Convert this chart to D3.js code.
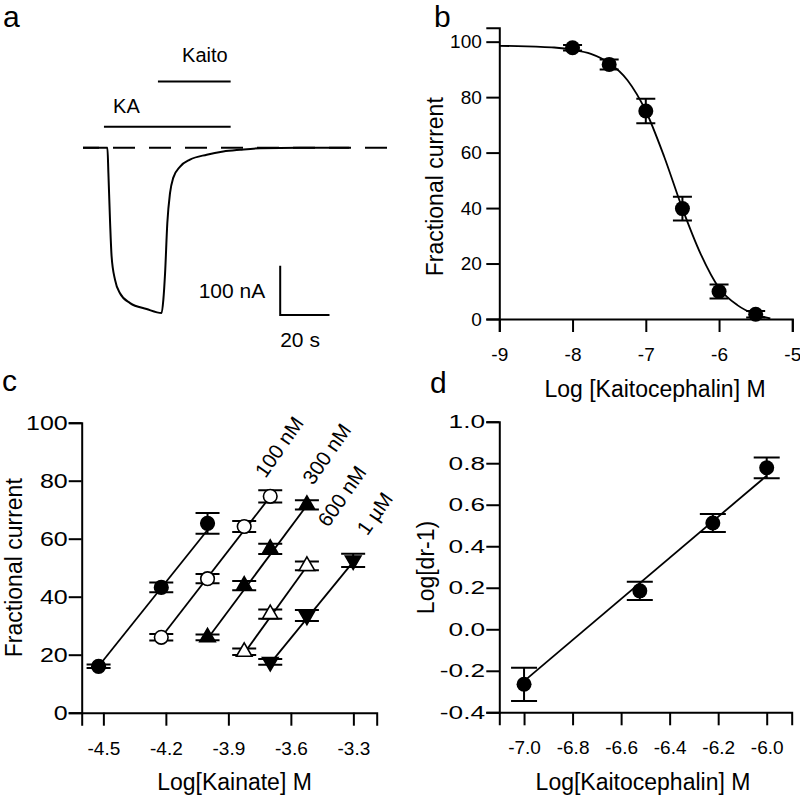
<!DOCTYPE html>
<html><head><meta charset="utf-8">
<script src="https://cdn.jsdelivr.net/npm/d3@7"></script>
<style>
body{margin:0;background:#fff}
svg{display:block;background:#fff}
text{font-family:"Liberation Sans",Arial,Helvetica,sans-serif;fill:#000}
</style></head><body>
<svg id="chart" width="800" height="800"></svg>
<script>
// ---------- Panel a : current trace (time in s, current in nA) ----------
const traceT = [0, 9.6, 9.9, 10.3, 11.0, 11.6, 13.0, 15.0, 19.1, 25.8, 31.9, 32.6, 33.3, 34.2, 35.3, 36.6, 39.4, 43.4, 50.2, 56.9, 63.7, 71.8, 88, 108];
const traceI = [0, 0, 0, -51, -153, -220, -268, -295, -315, -327, -335, -308, -254, -153, -92, -61, -38, -24, -14, -7.5, -4, -1, 0, 0];
const baselineT = [0, 123.7];
const kaBarT = [8.5, 59.9];
const kaitoBarT = [30.4, 59.9];
const scaleBarSec = 20;
const scaleBarNA = 100;

// ---------- Panel b : inhibition curve ----------
const bLogConc = [-8, -7.5, -7, -6.5, -6, -5.5];
const bFrac = [97.8, 91.8, 75.0, 39.8, 9.9, 1.7];
const bErr = [1.0, 1.8, 4.4, 4.3, 2.5, 1.2];
const bFitX = [-9, -8.75, -8.5, -8.25, -8, -7.75, -7.5, -7.25, -7, -6.75, -6.5, -6.25, -6, -5.75, -5.5, -5.3];
const bFitY = [98.5, 98.4, 98.2, 97.9, 97.1, 95.6, 92.3, 86.1, 75.0, 58.6, 39.8, 23.4, 11.2, 5.0, 1.6, 0.2];
const bXTicks = [-9, -8, -7, -6, -5];
const bYTicks = [0, 20, 40, 60, 80, 100];

// ---------- Panel c : Schild shift ----------
const cNames = ["Control", "100 nM", "300 nM", "600 nM", "1 µM"];
const cX0 = [-4.523, -4.222, -4.0];
const cY0 = [16, 43.2, 65.3];
const cE0 = [0.6, 1.7, 3.6];
const cX1 = [-4.222, -4.0, -3.824, -3.699];
const cY1 = [26, 46.2, 64.2, 74.6];
const cE1 = [1.1, 1.6, 1.9, 2.1];
const cX2 = [-4.0, -3.824, -3.699, -3.523];
const cY2 = [26, 43.8, 56.5, 71.7];
const cE2 = [1.0, 1.6, 1.8, 1.6];
const cX3 = [-3.824, -3.699, -3.523];
const cY3 = [21, 34, 50.6];
const cE3 = [1.1, 1.6, 1.5];
const cX4 = [-3.699, -3.523, -3.301];
const cY4 = [17.5, 33.5, 52.5];
const cE4 = [1.0, 1.9, 2.3];
const cFitStart = [16, 26, 25.5, 20.5, 17];
const cFitEnd = [63, 74.5, 71.5, 50.5, 52];
const cLabels = ["100 nM", "300 nM", "600 nM", "1 µM"];
const cXTicks = [-4.5, -4.2, -3.9, -3.6, -3.3];
const cYTicks = [0, 20, 40, 60, 80, 100];

// ---------- Panel d : Schild plot ----------
const dLogConc = [-7.0, -6.523, -6.222, -6.0];
const dLogDr = [-0.265, 0.185, 0.512, 0.778];
const dErr = [0.08, 0.044, 0.043, 0.05];
const dFitX = [-7.0, -6.0];
const dFitY = [-0.25, 0.74];
const dXTicks = [-7.0, -6.8, -6.6, -6.4, -6.2, -6.0];
const dYTicks = [-0.4, -0.2, 0.0, 0.2, 0.4, 0.6, 0.8, 1.0];

// =====================================================================
const svg = d3.select("#chart");
const FONT = '"Liberation Sans",Arial,Helvetica,sans-serif';
const SW = 2;

function styleAxis(g, fs) {
  g.attr("font-family", FONT).attr("font-size", fs);
  g.select(".domain").attr("stroke", "#000").attr("stroke-width", SW);
  g.selectAll(".tick line").attr("stroke", "#000").attr("stroke-width", SW);
  g.selectAll(".tick text").attr("fill", "#000");
}
// horizontally widen left-axis labels while keeping their right edge
function widenLabels(g, sx) {
  g.selectAll(".tick text").each(function () {
    const t = d3.select(this);
    const x0 = +t.attr("x");
    t.attr("x", x0 / sx).attr("transform", `scale(${sx},1)`);
  });
}
function panelLabel(t, x, y) {
  svg.append("text").attr("x", x).attr("y", y).attr("font-size", 30).text(t);
}

// ---------- Panel a ----------
(function () {
  const xA = d3.scaleLinear().domain([0, 20]).range([83, 132.3]);
  const yA = d3.scaleLinear().domain([0, -100]).range([147.8, 197.1]);
  panelLabel("a", 3, 27);

  svg.append("line")
    .attr("x1", xA(baselineT[0])).attr("x2", xA(baselineT[1]))
    .attr("y1", yA(0)).attr("y2", yA(0))
    .attr("stroke", "#000").attr("stroke-width", 2)
    .attr("stroke-dasharray", "22,14").attr("stroke-dashoffset", 6);

  const pts = traceT.map((t, i) => [t, traceI[i]]);
  svg.append("path").datum(pts)
    .attr("d", d3.line().x(d => xA(d[0])).y(d => yA(d[1])).curve(d3.curveMonotoneX))
    .attr("fill", "none").attr("stroke", "#000").attr("stroke-width", 2);

  const kaY = 42.6, kaitoY = 134.5;
  svg.append("line").attr("x1", xA(kaBarT[0])).attr("x2", xA(kaBarT[1]))
    .attr("y1", yA(kaY)).attr("y2", yA(kaY)).attr("stroke", "#000").attr("stroke-width", 2);
  svg.append("line").attr("x1", xA(kaitoBarT[0])).attr("x2", xA(kaitoBarT[1]))
    .attr("y1", yA(kaitoY)).attr("y2", yA(kaitoY)).attr("stroke", "#000").attr("stroke-width", 2);
  svg.append("text").attr("x", xA(12.2)).attr("y", yA(71.6)).attr("font-size", 20).text("KA");
  svg.append("text").attr("x", xA(40.2)).attr("y", yA(174.4)).attr("font-size", 20).text("Kaito");

  const sbT = 80, sbI = -339;
  svg.append("path")
    .attr("d", `M${xA(sbT)},${yA(sbI + scaleBarNA)}L${xA(sbT)},${yA(sbI)}L${xA(sbT + scaleBarSec)},${yA(sbI)}`)
    .attr("fill", "none").attr("stroke", "#000").attr("stroke-width", 2);
  svg.append("text").attr("x", xA(sbT) - 15).attr("y", yA(sbI) - 17).attr("text-anchor", "end")
    .attr("font-size", 21).text(scaleBarNA + " nA");
  svg.append("text").attr("x", xA(sbT)).attr("y", yA(sbI) + 32)
    .attr("font-size", 21).text(scaleBarSec + " s");
})();

// ---------- Panel b ----------
(function () {
  const x = d3.scaleLinear().domain([-9, -5]).range([499.3, 792.3]);
  const y = d3.scaleLinear().domain([0, 105]).range([319, 27.8]);
  panelLabel("b", 434, 27);

  const gx = svg.append("g").attr("transform", "translate(0,319)")
    .call(d3.axisBottom(x).tickValues(bXTicks).tickFormat(d => String(d)).tickSizeOuter(0).tickSize(13).tickPadding(15.5));
  styleAxis(gx, 19);
  const gy = svg.append("g").attr("transform", "translate(499.3,0)")
    .call(d3.axisLeft(y).tickValues(bYTicks).tickFormat(d => String(d)).tickSizeOuter(0).tickSize(13).tickPadding(4.5));
  styleAxis(gy, 19);

  svg.append("text").attr("transform", "translate(443,186.7) rotate(-90)")
    .attr("text-anchor", "middle").attr("font-size", 23).text("Fractional current");
  svg.append("text").attr("x", 655).attr("y", 397)
    .attr("text-anchor", "middle").attr("font-size", 23).text("Log [Kaitocephalin] M");

  const fit = bFitX.map((v, i) => [v, bFitY[i]]);
  svg.append("path").datum(fit)
    .attr("d", d3.line().x(d => x(d[0])).y(d => y(d[1])).curve(d3.curveMonotoneX))
    .attr("fill", "none").attr("stroke", "#000").attr("stroke-width", 1.8);

  const cap = 9.5;
  bLogConc.forEach((c, i) => {
    const cx = x(c), y1 = y(bFrac[i] + bErr[i]), y2 = y(bFrac[i] - bErr[i]);
    svg.append("path").attr("d", `M${cx},${y1}L${cx},${y2}M${cx - cap},${y1}L${cx + cap},${y1}M${cx - cap},${y2}L${cx + cap},${y2}`)
      .attr("stroke", "#000").attr("stroke-width", 2).attr("fill", "none");
  });
  svg.selectAll(null).data(bLogConc).enter().append("circle")
    .attr("cx", d => x(d)).attr("cy", (d, i) => y(bFrac[i])).attr("r", 7.5).attr("fill", "#000");
})();

// ---------- Panel c ----------
(function () {
  const x = d3.scaleLinear().domain([-4.604, -3.188]).range([81.7, 376.7]);
  const y = d3.scaleLinear().domain([0, 100]).range([712.7, 422.7]);
  panelLabel("c", 2, 391);

  const gx = svg.append("g").attr("transform", "translate(0,712.7)")
    .call(d3.axisBottom(x).tickValues(cXTicks).tickFormat(d => d.toFixed(1)).tickSizeOuter(0).tickSize(13).tickPadding(15.5));
  styleAxis(gx, 19);
  const gy = svg.append("g").attr("transform", "translate(81.7,0)")
    .call(d3.axisLeft(y).tickValues(cYTicks).tickFormat(d => String(d)).tickSizeOuter(0).tickSize(13).tickPadding(1));
  styleAxis(gy, 20);
  widenLabels(gy, 1.25);

  svg.append("text").attr("transform", "translate(22,567.7) rotate(-90)")
    .attr("text-anchor", "middle").attr("font-size", 23).text("Fractional current");
  svg.append("text").attr("x", 234.5).attr("y", 790)
    .attr("text-anchor", "middle").attr("font-size", 23).text("Log[Kainate] M");

  const series = [[cX0, cY0, cE0], [cX1, cY1, cE1], [cX2, cY2, cE2], [cX3, cY3, cE3], [cX4, cY4, cE4]];
  const styles = [
    { sym: "circle", fill: "#000" },
    { sym: "circle", fill: "#fff" },
    { sym: "up", fill: "#000" },
    { sym: "up", fill: "#fff" },
    { sym: "down", fill: "#000" }
  ];
  series.forEach((s, k) => {
    const xs = s[0];
    svg.append("line")
      .attr("x1", x(xs[0])).attr("y1", y(cFitStart[k]))
      .attr("x2", x(xs[xs.length - 1])).attr("y2", y(cFitEnd[k]))
      .attr("stroke", "#000").attr("stroke-width", 1.8);
  });
  const cap = 12;
  series.forEach((s, k) => {
    s[0].forEach((c, i) => {
      const cx = x(c), y1 = y(s[1][i] + s[2][i]), y2 = y(s[1][i] - s[2][i]);
      svg.append("path").attr("d", `M${cx},${y1}L${cx},${y2}M${cx - cap},${y1}L${cx + cap},${y1}M${cx - cap},${y2}L${cx + cap},${y2}`)
        .attr("stroke", "#000").attr("stroke-width", 2).attr("fill", "none");
    });
  });
  const tri = d3.symbol().type(d3.symbolTriangle).size(105);
  series.forEach((s, k) => {
    const st = styles[k];
    s[0].forEach((c, i) => {
      const cx = x(c), cy = y(s[1][i]);
      if (st.sym === "circle") {
        svg.append("circle").attr("cx", cx).attr("cy", cy).attr("r", 6.8)
          .attr("fill", st.fill).attr("stroke", "#000").attr("stroke-width", 1.6);
      } else {
        svg.append("path").attr("d", tri())
          .attr("transform", `translate(${cx},${cy})` + (st.sym === "down" ? " rotate(180)" : ""))
          .attr("fill", st.fill).attr("stroke", "#000").attr("stroke-width", 1.6);
      }
    });
  });
  const labelPos = [[-3.722, 80.6], [-3.494, 78.2], [-3.421, 63.6], [-3.233, 60.8]];
  cLabels.forEach((t, i) => {
    svg.append("text")
      .attr("transform", `translate(${x(labelPos[i][0])},${y(labelPos[i][1])}) rotate(-55)`)
      .attr("font-size", 20.5).text(t);
  });
})();

// ---------- Panel d ----------
(function () {
  const x = d3.scaleLinear().domain([-7.102, -5.897]).range([499.3, 791.7]);
  const y = d3.scaleLinear().domain([-0.4, 1.0]).range([712.3, 421.7]);
  panelLabel("d", 430, 393);

  const gx = svg.append("g").attr("transform", "translate(0,712.3)")
    .call(d3.axisBottom(x).tickValues(dXTicks).tickFormat(d => d.toFixed(1)).tickSizeOuter(0).tickSize(13).tickPadding(15.5));
  styleAxis(gx, 19);
  const gy = svg.append("g").attr("transform", "translate(499.3,0)")
    .call(d3.axisLeft(y).tickValues(dYTicks).tickFormat(d => d.toFixed(1)).tickSizeOuter(0).tickSize(13).tickPadding(1.3));
  styleAxis(gy, 19);
  widenLabels(gy, 1.38);

  svg.append("text").attr("transform", "translate(433.5,567.5) rotate(-90)")
    .attr("text-anchor", "middle").attr("font-size", 23).text("Log[dr-1)");
  svg.append("text").attr("x", 643).attr("y", 790)
    .attr("text-anchor", "middle").attr("font-size", 23).text("Log[Kaitocephalin] M");

  svg.append("line").attr("x1", x(dFitX[0])).attr("y1", y(dFitY[0]))
    .attr("x2", x(dFitX[1])).attr("y2", y(dFitY[1]))
    .attr("stroke", "#000").attr("stroke-width", 1.8);

  const cap = 13;
  dLogConc.forEach((c, i) => {
    const cx = x(c), y1 = y(dLogDr[i] + dErr[i]), y2 = y(dLogDr[i] - dErr[i]);
    svg.append("path").attr("d", `M${cx},${y1}L${cx},${y2}M${cx - cap},${y1}L${cx + cap},${y1}M${cx - cap},${y2}L${cx + cap},${y2}`)
      .attr("stroke", "#000").attr("stroke-width", 2).attr("fill", "none");
  });
  svg.selectAll(null).data(dLogConc).enter().append("circle")
    .attr("cx", d => x(d)).attr("cy", (d, i) => y(dLogDr[i])).attr("r", 7.5).attr("fill", "#000");
})();
</script>
</body></html>
